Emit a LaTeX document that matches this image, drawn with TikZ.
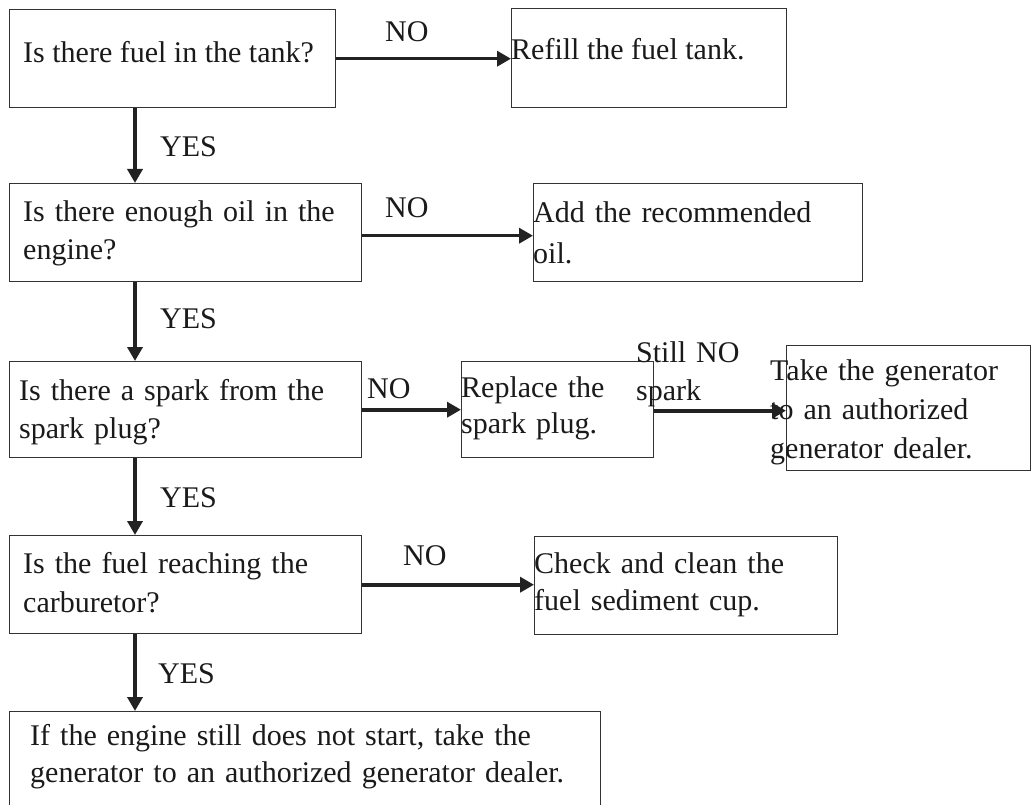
\documentclass[tikz,border=0pt]{standalone}
\usepackage{fontspec}
\setmainfont{Liberation Serif}
\usetikzlibrary{arrows.meta}
\definecolor{boxc}{HTML}{333333}
\definecolor{arrc}{HTML}{222222}
\definecolor{txtc}{HTML}{1A1A1A}
\begin{document}
\begin{tikzpicture}[x=1pt,y=-1pt,
  box/.style={draw=boxc, line width=1.4pt, inner sep=0pt, anchor=north west},
  txt/.style={font=\fontsize{30}{38}\selectfont, inner sep=0pt, anchor=base west, text=txtc},
  mtxt/.style={txt, align=left, text width=#1},
  arr/.style={draw=arrc, line width=3.6pt, -{Triangle[length=14pt,width=15pt]}}]
\useasboundingbox (0,0) rectangle (1031,805);
\fill[white] (0,0) rectangle (1031,805);
\clip (0,0) rectangle (1031,805);
% boxes
\node[box, minimum width=326pt, minimum height=98pt] (b1) at (9,9) {};
\node[box, minimum width=275pt, minimum height=99pt] (r1) at (511,8) {};
\node[box, minimum width=352pt, minimum height=98pt] (b2) at (9,183) {};
\node[box, minimum width=329pt, minimum height=98pt] (a2) at (533,183) {};
\node[box, minimum width=352pt, minimum height=96pt] (b3) at (9,361) {};
\node[box, minimum width=192pt, minimum height=96pt] (rp) at (461,361) {};
\node[box, minimum width=244pt, minimum height=125pt] (tk) at (786,345) {};
\node[box, minimum width=352pt, minimum height=98pt] (b4) at (9,535) {};
\node[box, minimum width=303pt, minimum height=98pt] (ck) at (534,536) {};
\node[box, minimum width=591pt, minimum height=110pt] (fin) at (9,711) {};
% texts
\node[txt] (t1) at (23,63) {Is there fuel in the tank?};
\node[txt] (tr) at (511,60) {Refill the fuel tank.};
\node[mtxt=330pt] (t2) at (23,222) {Is there enough oil in the\\engine?};
\node[mtxt=330pt, font=\fontsize{30}{40}\selectfont] (ta) at (533,223) {Add the recommended\\oil.};
\node[mtxt=330pt] (t3) at (19,400) {\makebox[316pt][s]{Is there a spark from the}\\spark plug?};
\node[mtxt=190pt, font=\fontsize{30}{36}\selectfont] (trp) at (461,397) {Replace the\\spark plug.};
\node[mtxt=150pt] (still) at (636,362) {Still NO\\spark};
\node[mtxt=260pt, font=\fontsize{30}{39}\selectfont] (ttk) at (770,380) {\makebox[238pt][s]{Take the generator}\\\makebox[238pt][s]{to an authorized}\\generator dealer.};
\node[mtxt=330pt, font=\fontsize{30}{39}\selectfont] (t4) at (23,573) {\makebox[317pt][s]{Is the fuel reaching the}\\carburetor?};
\node[mtxt=300pt, font=\fontsize{30}{37}\selectfont] (tck) at (534,573) {Check and clean the\\fuel sediment cup.};
\node[mtxt=560pt, font=\fontsize{30}{37}\selectfont] (tfin) at (30,745) {\makebox[527pt][s]{If the engine still does not start, take the}\\generator to an authorized generator dealer.};
% labels
\node[txt] (no1) at (385,42) {NO};
\node[txt] (no2) at (385,218) {NO};
\node[txt] (no3) at (367,398) {NO};
\node[txt] (no4) at (403,565) {NO};
\node[txt] (y1) at (160,157) {YES};
\node[txt] (y2) at (160,328) {YES};
\node[txt] (y3) at (160,507) {YES};
\node[txt] (y4) at (158,683) {YES};
% connectors
\draw[arr] (b1.east) -- (r1.west |- b1.east);
\draw[arr] ([yshift=-3pt]b2.east) -- ([yshift=-3pt]b2.east -| a2.west);
\draw[arr] (b3.east) -- (rp.west |- b3.east);
\draw[arr] ([yshift=-1pt]rp.east) -- ([yshift=-1pt]rp.east -| tk.west);
\draw[arr] (b4.east) -- (ck.west |- b4.east);
\draw[arr] ([xshift=126pt]b1.south west) -- ([xshift=126pt]b2.north west);
\draw[arr] ([xshift=126pt]b2.south west) -- ([xshift=126pt]b3.north west);
\draw[arr] ([xshift=126pt]b3.south west) -- ([xshift=126pt]b4.north west);
\draw[arr] ([xshift=126pt]b4.south west) -- ([xshift=126pt]fin.north west);
\end{tikzpicture}
\end{document}
